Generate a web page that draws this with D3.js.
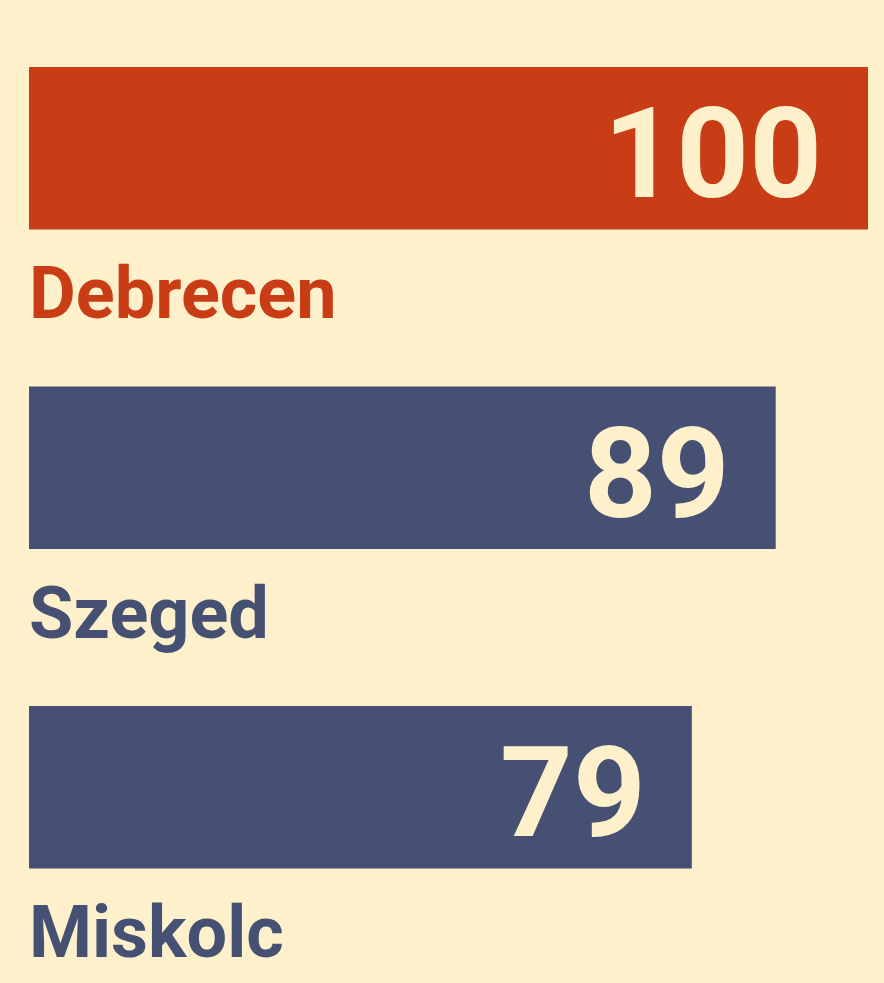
<!DOCTYPE html>
<html>
<head>
<meta charset="utf-8">
<script src="https://cdn.jsdelivr.net/npm/d3@7"></script>
<style>
  html, body { margin: 0; padding: 0; background: #fff0cc; }
  svg { display: block; }
</style>
</head>
<body>
<div id="vis"></div>
<script>
var cities = ["Debrecen", "Szeged", "Miskolc"];
var values = [100, 89, 79];
var highlight = ["Debrecen"];

var width = 884, height = 983;
var left = 29, right = 868;
var bg = "#fff0cc", red = "#c83c16", navy = "#465073";

var svg = d3.select("#vis")
    .append("svg")
    .attr("width", width)
    .attr("height", height)
    .style("font-family", "Roboto, sans-serif");

svg.append("rect").attr("width", width).attr("height", height).attr("fill", bg);

var x = d3.scaleLinear().domain([0, 100]).range([left, right]);
var y = d3.scaleBand().domain(cities).range([67, 67 + 3 * 319.5]).paddingInner(0).paddingOuter(0);
var barH = 162.5;

function colorOf(d) { return highlight.indexOf(d) >= 0 ? red : navy; }

var g = svg.selectAll(".row")
    .data(cities)
    .enter().append("g")
    .attr("class", "row")
    .attr("transform", function(d) { return "translate(0," + y(d) + ")"; });

g.append("rect")
    .attr("x", x(0))
    .attr("y", 0)
    .attr("width", function(d, i) { return x(values[i]) - x(0); })
    .attr("height", barH)
    .attr("fill", colorOf);

g.append("text")
    .attr("x", function(d, i) { return x(values[i]) - 46; })
    .attr("y", 130)
    .attr("text-anchor", "end")
    .style("font-size", "127px")
    .style("font-weight", 700)
    .attr("fill", bg)
    .text(function(d, i) { return values[i]; });

g.append("text")
    .attr("x", left)
    .attr("y", barH + 88.5)
    .style("font-size", "72px")
    .style("font-weight", 700)
    .attr("fill", colorOf)
    .text(function(d) { return d; });
</script>
</body>
</html>
